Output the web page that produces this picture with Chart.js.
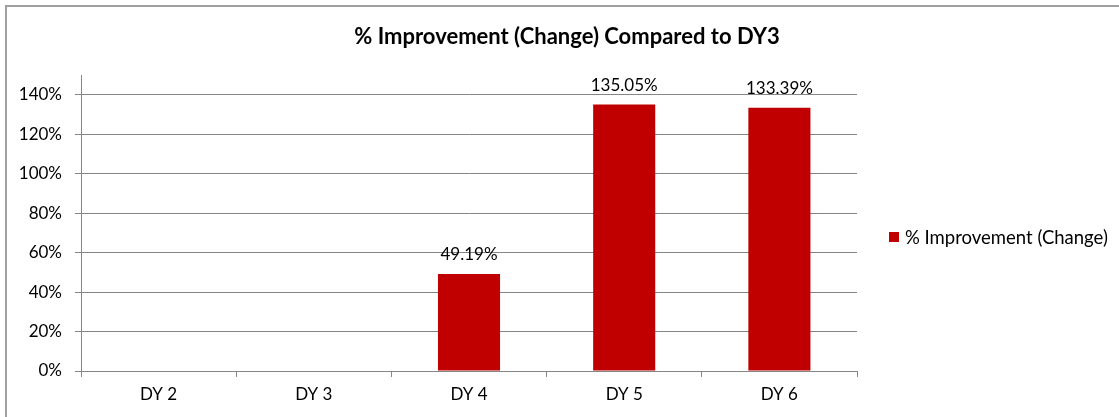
<!DOCTYPE html>
<html>
<head>
<meta charset="utf-8">
<script src="https://cdn.jsdelivr.net/npm/chart.js@4.4.1/dist/chart.umd.min.js"></script>
<style>
  html, body { margin: 0; padding: 0; background: #fff; }
  #wrap { position: relative; width: 1119px; height: 417px; }
</style>
</head>
<body>
<div id="wrap"><canvas id="c" width="1119" height="417"></canvas></div>
<script>
const categories = ['DY 2', 'DY 3', 'DY 4', 'DY 5', 'DY 6'];
const improvement = [null, null, 0.4919, 1.3505, 1.3339];
const dataLabels = ['', '', '49.19%', '135.05%', '133.39%'];
const seriesName = '% Improvement (Change)';
const chartTitle = '% Improvement (Change) Compared to DY3';
const yTicks = [0, 0.2, 0.4, 0.6, 0.8, 1.0, 1.2, 1.4];

const FONT = 'Lato, "Open Sans", sans-serif';
const GRID = '#868686';
const BAR = '#C00000';

const frame = {
  id: 'frame',
  beforeDraw(chart) {
    const ctx = chart.ctx;
    ctx.save();
    ctx.fillStyle = '#fff';
    ctx.fillRect(0, 0, chart.width, chart.height);
    ctx.strokeStyle = '#a0a0a0';
    ctx.lineWidth = 2;
    ctx.beginPath();
    ctx.moveTo(6, chart.height);
    ctx.lineTo(6, 6);
    ctx.lineTo(chart.width, 6);
    ctx.stroke();
    ctx.restore();
  }
};

const valueLabels = {
  id: 'valueLabels',
  afterDatasetsDraw(chart) {
    const ctx = chart.ctx;
    const meta = chart.getDatasetMeta(0);
    ctx.save();
    ctx.font = '17px ' + FONT;
    ctx.fillStyle = '#000';
    ctx.textAlign = 'center';
    ctx.textBaseline = 'alphabetic';
    meta.data.forEach((bar, i) => {
      if (!dataLabels[i]) return;
      ctx.fillText(dataLabels[i], bar.x, bar.y - 13.5);
    });
    ctx.restore();
  }
};

const sideLegend = {
  id: 'sideLegend',
  afterDraw(chart) {
    const ctx = chart.ctx;
    const ds = chart.data.datasets[0];
    const x0 = chart.chartArea.right + 32;
    ctx.save();
    ctx.fillStyle = ds.backgroundColor;
    ctx.fillRect(x0, 232, 10, 10);
    ctx.font = '18.5px ' + FONT;
    ctx.fillStyle = '#000';
    ctx.textAlign = 'left';
    ctx.textBaseline = 'middle';
    ctx.fillText(ds.label, x0 + 16, 238);
    ctx.restore();
  }
};

new Chart(document.getElementById('c'), {
  type: 'bar',
  data: {
    labels: categories,
    datasets: [{
      label: seriesName,
      data: improvement,
      backgroundColor: BAR,
      borderWidth: 0,
      barPercentage: 0.4,
      categoryPercentage: 1.0,
      yAxisID: 'y'
    }]
  },
  options: {
    responsive: false,
    animation: false,
    layout: { padding: { left: 15, right: 0, top: 0, bottom: 0 } },
    plugins: {
      legend: { display: false },
      tooltip: { enabled: false },
      title: {
        display: true,
        text: chartTitle,
        color: '#000',
        font: { family: FONT, size: 22, weight: 'bold' },
        padding: { top: 24, bottom: 24.6 }
      }
    },
    scales: {
      x: {
        afterFit(scale) { scale.height = 46; },
        grid: {
          offset: true,
          drawOnChartArea: false,
          drawTicks: true,
          tickLength: 6,
          color: GRID
        },
        border: { color: GRID, width: 1 },
        ticks: { color: '#000', font: { family: FONT, size: 17 }, padding: 7 }
      },
      y: {
        min: 0,
        max: 1.5,
        afterFit(scale) { scale.width = 66; },
        afterBuildTicks(scale) { scale.ticks = yTicks.map(v => ({ value: v })).concat([{ value: 1.5 }]); },
        grid: {
          color: ctx => (ctx.tick && ctx.tick.value > 1.45) ? 'rgba(0,0,0,0)' : GRID,
          tickLength: 6
        },
        border: { color: GRID, width: 1 },
        ticks: {
          color: '#000',
          font: { family: FONT, size: 17 },
          padding: 13,
          callback: v => v > 1.45 ? '' : Math.round(v * 100) + '%'
        }
      },
      legendSpace: {
        type: 'linear',
        position: 'right',
        display: true,
        afterFit(scale) { scale.width = 262; },
        grid: { display: false },
        border: { display: false },
        ticks: { display: false }
      }
    }
  },
  plugins: [frame, valueLabels, sideLegend]
});
</script>
</body>
</html>
